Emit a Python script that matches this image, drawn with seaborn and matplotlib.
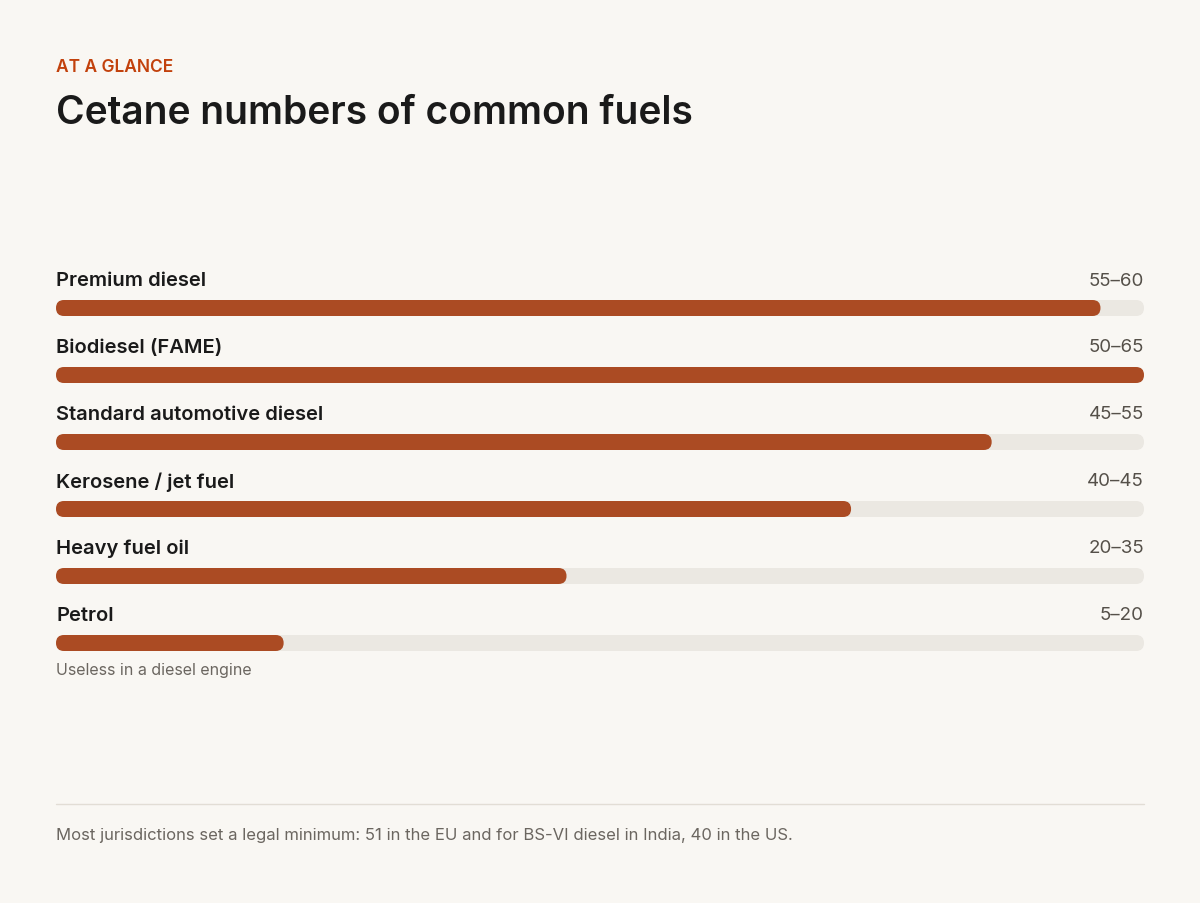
import matplotlib
matplotlib.use("Agg")
import matplotlib.pyplot as plt
import seaborn as sns
from matplotlib.patches import FancyBboxPatch
from matplotlib.lines import Line2D

fuels = ["Premium diesel", "Biodiesel (FAME)", "Standard automotive diesel",
         "Kerosene / jet fuel", "Heavy fuel oil", "Petrol"]
bar_values = [62.4, 65.0, 55.9, 47.5, 30.5, 13.6]
range_labels = ["55\u201360", "50\u201365", "45\u201355", "40\u201345", "20\u201335", "5\u201320"]
scale_max = 65.0
notes = {"Petrol": "Useless in a diesel engine"}

BG = "#f9f7f3"; TRACK = "#ede8e0"; BAR = "#c2410c"; INK = "#1a1a1a"; GRAY = "#6b6660"

sns.set_theme(style="white")
plt.rcParams["font.family"] = ["Inter", "DejaVu Sans"]

W, H = 1200, 904
fig = plt.figure(figsize=(W/100, H/100), dpi=100, facecolor=BG)
top_px, bot_px = 275.5, 677.5
ax = fig.add_axes([56/W, (H-bot_px)/H, 1088/W, (bot_px-top_px)/H])
ax.set_facecolor(BG)

bh = 16/67
sns.barplot(x=[scale_max]*len(fuels), y=fuels, orient="h", color=TRACK, width=bh, ax=ax)
sns.barplot(x=bar_values, y=fuels, orient="h", color=BAR, width=bh, ax=ax)
ax.set_xlim(0, scale_max); ax.set_ylim(len(fuels)-0.5, -0.5)

xpu = 1088/scale_max; ypu = 67.0
r = 8/xpu; aspect = xpu/ypu
for p in list(ax.patches):
    x0, y0, w, h = p.get_x(), p.get_y(), p.get_width(), p.get_height()
    fb = FancyBboxPatch((x0, y0), w, h, boxstyle=f"round,pad=0,rounding_size={r}",
                        mutation_aspect=aspect, facecolor=p.get_facecolor(), edgecolor="none")
    p.remove(); ax.add_patch(fb)

for i, (f, lab) in enumerate(zip(fuels, range_labels)):
    ax.text(0, i - 28/67, f, ha="left", va="center", fontsize=14.5, fontweight="semibold", color=INK)
    ax.text(scale_max, i - 28/67, lab, ha="right", va="center", fontsize=13.5, color="#555049")
    if f in notes:
        ax.text(0, i + 27/67, notes[f], ha="left", va="center", fontsize=11.5, color=GRAY)

ax.set_xticks([]); ax.set_yticks([]); ax.set_xlabel(""); ax.set_ylabel("")
sns.despine(ax=ax, left=True, bottom=True)

fig.text(56/W, 1-67/H, "AT A GLANCE", fontsize=12.5, fontweight="semibold", color=BAR,
         va="center", ha="left")
fig.text(56/W, 1-113/H, "Cetane numbers of common fuels", fontsize=28, fontweight="semibold",
         color=INK, va="center", ha="left")
fig.add_artist(Line2D([56/W, 1144/W], [1-805/H, 1-805/H], color="#e2ddd5", lw=1))
fig.text(56/W, 1-836/H, "Most jurisdictions set a legal minimum: 51 in the EU and for BS-VI diesel in India, 40 in the US.",
         fontsize=12, color=GRAY, va="center", ha="left")

fig.savefig("out.png", dpi=100, facecolor=BG)
